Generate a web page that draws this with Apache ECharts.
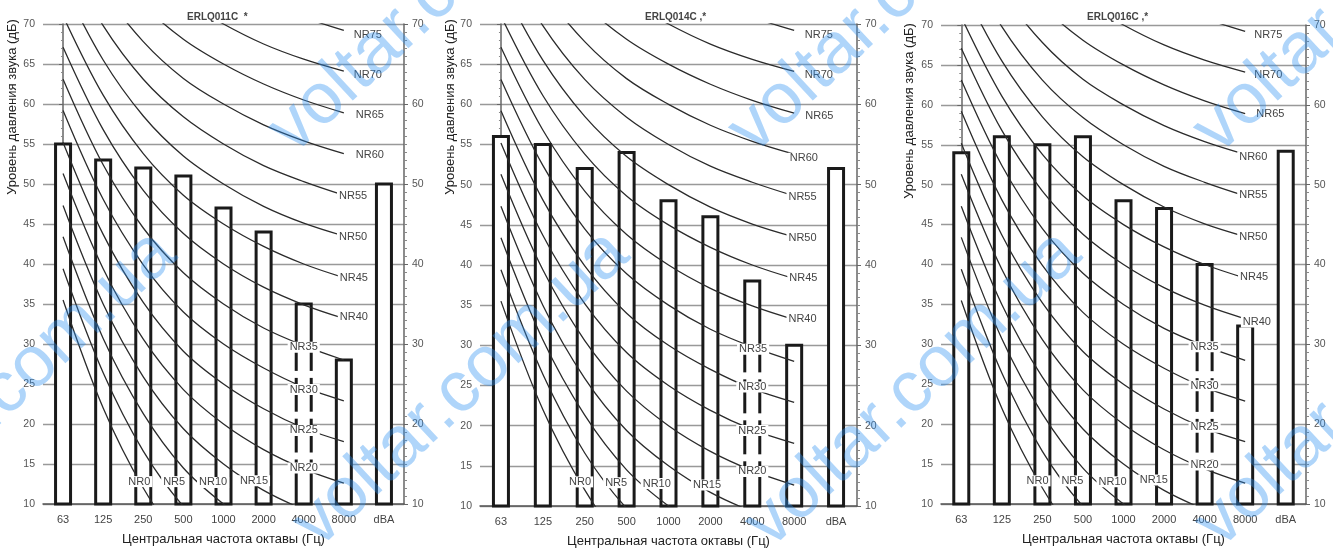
<!DOCTYPE html>
<html>
<head>
<meta charset="utf-8">
<script src="https://cdn.jsdelivr.net/npm/echarts/dist/echarts.min.js"></script>
<style>
html,body{margin:0;padding:0;background:#fff;}
#chart{width:1333px;height:555px;}
</style>
</head>
<body>
<div id="chart"></div>
<script>
// ---------- DATA ----------
const categories = ['63', '125', '250', '500', '1000', '2000', '4000', '8000', 'dBA'];
const panelTitles = ['ERLQ011C  *', 'ERLQ014C ,*', 'ERLQ016C ,*'];
const yAxisTitle = 'Уровень давления звука (дБ)';
const xAxisTitle = 'Центральная частота октавы (Гц)';

const bars1 = [55, 53, 52, 51, 47, 44, 35, 28, 50];
const bars2 = [56, 55, 52, 54, 48, 46, 38, 30, 52];
const bars3 = [54, 56, 55, 56, 48, 47, 40, 32.3, 54.2];

const nrNames = ['NR0','NR5','NR10','NR15','NR20','NR25','NR30','NR35','NR40','NR45','NR50','NR55','NR60','NR65','NR70','NR75'];
// NR curve levels (dB) at each octave band, NR0 .. NR75
const nr63   = [35.5, 39.4, 43.4, 47.3, 51.3, 55.2, 59.2, 63.1, 67.1, 71.0, 75.0, 78.9, 82.9, 86.8, 90.8, 94.7];
const nr125  = [22.0, 26.4, 30.7, 35.0, 39.4, 43.7, 48.1, 52.4, 56.8, 61.1, 65.5, 69.8, 74.2, 78.5, 82.9, 87.2];
const nr250  = [12.0, 16.6, 21.3, 25.9, 30.6, 35.2, 39.9, 44.5, 49.2, 53.8, 58.5, 63.1, 67.8, 72.4, 77.1, 81.7];
const nr500  = [4.8, 9.7, 14.5, 19.4, 24.3, 29.1, 34.0, 38.9, 43.8, 48.6, 53.5, 58.4, 63.2, 68.1, 73.0, 77.8];
const nr1000 = [0, 5, 10, 15, 20, 25, 30, 35, 40, 45, 50, 55, 60, 65, 70, 75];
const nr2000 = [-3.5, 1.6, 6.6, 11.7, 16.8, 21.9, 27.0, 32.0, 37.1, 42.2, 47.2, 52.3, 57.4, 62.5, 67.5, 72.6];
const nr4000 = [-6.1, -1.0, 4.1, 9.3, 14.4, 19.5, 24.6, 29.8, 34.9, 40.0, 45.1, 50.3, 55.4, 60.5, 65.6, 70.8];
const nr8000 = [-8.0, -2.9, 2.3, 7.4, 12.6, 17.8, 22.9, 28.0, 33.2, 38.3, 43.5, 48.6, 53.8, 58.9, 64.1, 69.2];

// NR label anchors [band position, dB] for NR0 .. NR75
const nrLabels1 = [[1.9,12.8],[2.77,12.8],[3.74,12.7],[4.76,12.9],[6.0,14.5],[6.0,19.2],[6.0,24.3],[6.0,29.6],
                   [7.25,33.4],[7.25,38.3],[7.23,43.4],[7.23,48.5],[7.65,53.6],[7.65,58.6],[7.6,63.6],[7.6,68.6]];
const nrLabels2 = [[1.89,13.0],[2.75,12.9],[3.72,12.8],[4.92,12.6],[6.0,14.3],[6.0,19.4],[6.0,24.8],[6.02,29.5],
                   [7.2,33.3],[7.22,38.4],[7.2,43.4],[7.2,48.5],[7.23,53.3],[7.6,58.6],[7.59,63.6],[7.59,68.6]];
const nrLabels3 = [[1.88,12.9],[2.74,12.9],[3.73,12.8],[4.75,13.0],[6.0,14.9],[6.0,19.6],[6.0,24.8],[6.0,29.7],
                   [7.29,32.8],[7.22,38.4],[7.2,43.4],[7.2,48.7],[7.2,53.5],[7.62,58.8],[7.57,63.7],[7.57,68.8]];
// small breaks in the 4000 Hz bar outline [band position, dB]
const barBreaks = [[6, 26.2], [6, 21.1], [6, 16.0]];

const watermark = 'voltar.com.ua';

// ---------- LAYOUT ----------
const FONT = '"Liberation Sans", Arial, sans-serif';
const grids = [
  {left: 43, right: 929, top: 24, bottom: 51},
  {left: 480, right: 476, top: 24, bottom: 49},
  {left: 941, right: 27, top: 25, bottom: 51}
];
const titlePos = [182, 640, 1082];
const yTitlePos = [[12, 107], [450, 107], [909, 111]];
const wmPos = [[280,141],[740,141],[1205,141],[-148,535],[305,535],[757,535],[1207,535]];

const barsAll = [bars1, bars2, bars3];
const labelsAll = [nrLabels1, nrLabels2, nrLabels3];
const bands = [nr63, nr125, nr250, nr500, nr1000, nr2000, nr4000, nr8000];

const xAxes = [], yAxes = [], series = [], titles = [], graphics = [];

grids.forEach((g, p) => {
  xAxes.push({
    type: 'category', gridIndex: p, data: categories, position: 'bottom',
    axisLine: {show: true, lineStyle: {color: '#555', width: 1.5}},
    axisTick: {show: false},
    axisLabel: {fontSize: 11, color: '#444', margin: 10, fontFamily: FONT},
    splitLine: {show: false},
    name: xAxisTitle, nameLocation: 'middle', nameGap: 29,
    nameTextStyle: {fontSize: 13, color: '#222', fontFamily: FONT}
  });
  xAxes.push({type: 'value', gridIndex: p, min: -0.5, max: 8.5, show: false});
  const valIdx = p * 2 + 1;

  yAxes.push({
    type: 'value', gridIndex: p, min: 10, max: 70, interval: 5, position: 'left',
    axisLine: {show: true, lineStyle: {color: '#666', width: 1.5}},
    axisTick: {show: true, length: 4, lineStyle: {color: '#666'}},
    minorTick: {show: true, splitNumber: 5, length: 2, lineStyle: {color: '#888'}},
    axisLabel: {fontSize: 10.5, color: '#555', margin: 8, fontFamily: FONT},
    splitLine: {show: true, lineStyle: {color: '#999', width: 1.3}}
  });
  yAxes.push({
    type: 'value', gridIndex: p, min: 10, max: 70, interval: 10, position: 'right',
    axisLine: {show: true, lineStyle: {color: '#666', width: 1.5}},
    axisTick: {show: true, length: 4, lineStyle: {color: '#666'}},
    minorTick: {show: true, splitNumber: 10, length: 3, lineStyle: {color: '#888'}},
    axisLabel: {fontSize: 10.5, color: '#555', margin: 8, fontFamily: FONT},
    splitLine: {show: false}
  });
  const yL = p * 2;

  series.push({
    type: 'custom', xAxisIndex: valIdx, yAxisIndex: yL, z: 2, clip: false, silent: true,
    data: barsAll[p].map((v, i) => [i, v]),
    renderItem: (params, api) => {
      const top = api.coord([api.value(0), api.value(1)]);
      const bot = api.coord([api.value(0), 10]);
      const w = 15;
      return {type: 'rect', shape: {x: top[0] - w / 2, y: top[1], width: w, height: bot[1] - top[1]},
              style: {fill: '#fff', stroke: '#1a1a1a', lineWidth: 3}};
    }
  });
  series.push({
    type: 'custom', xAxisIndex: valIdx, yAxisIndex: yL, z: 3, clip: false, silent: true,
    data: barBreaks,
    renderItem: (params, api) => {
      const c = api.coord([api.value(0), api.value(1)]);
      return {type: 'rect', shape: {x: c[0] - 13, y: c[1] - 3.5, width: 26, height: 7}, style: {fill: '#fff'}};
    }
  });
  nrNames.forEach((nm, k) => {
    series.push({
      type: 'line', name: nm, xAxisIndex: valIdx, yAxisIndex: yL, z: 4, silent: true,
      symbol: 'none', smooth: 0.35, clip: true,
      lineStyle: {color: '#2b2b2b', width: 1.3},
      data: bands.map((b, i) => [i, b[k]])
    });
  });
  series.push({
    type: 'custom', xAxisIndex: valIdx, yAxisIndex: yL, z: 6, clip: false, silent: true,
    data: labelsAll[p],
    renderItem: (params, api) => {
      const c = api.coord([api.value(0), api.value(1)]);
      return {type: 'text', x: c[0], y: c[1], z2: 10,
              style: {text: nrNames[params.dataIndex], fill: '#444', font: '11px ' + FONT,
                      align: 'center', verticalAlign: 'middle',
                      backgroundColor: '#fff', padding: [0, 2, 0, 2]}};
    }
  });

  titles.push({text: panelTitles[p], left: titlePos[p], top: 7,
               textStyle: {fontSize: 10, fontWeight: 'bold', color: '#444', fontFamily: FONT}});
  graphics.push({type: 'text', x: yTitlePos[p][0], y: yTitlePos[p][1], rotation: Math.PI / 2, silent: true,
                 style: {text: yAxisTitle, font: '13px ' + FONT, fill: '#222', align: 'center', verticalAlign: 'middle'}});
});

wmPos.forEach(w => {
  graphics.push({type: 'text', x: w[0], y: w[1], rotation: 0.75, z: 100, silent: true,
                 style: {text: watermark, font: '72px ' + FONT, fill: 'rgba(45,145,242,0.38)',
                         align: 'left', verticalAlign: 'middle'}});
});

const chart = echarts.init(document.getElementById('chart'), null, {renderer: 'canvas'});
chart.setOption({
  animation: false,
  backgroundColor: '#fff',
  title: titles,
  grid: grids,
  xAxis: xAxes,
  yAxis: yAxes,
  series: series,
  graphic: graphics
});
</script>
</body>
</html>
